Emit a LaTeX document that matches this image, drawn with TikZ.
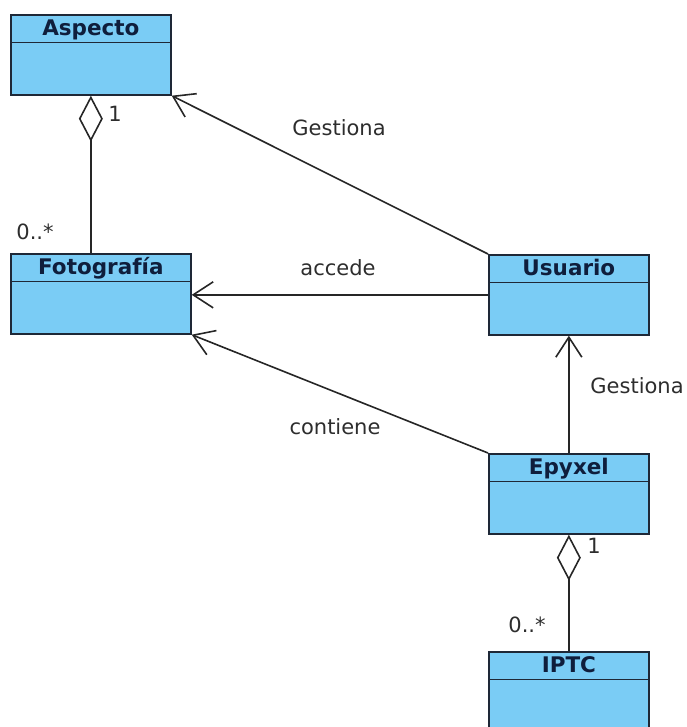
\documentclass[tikz,border=0pt]{standalone}
\usepackage{fontspec}
\setmainfont{DejaVu Sans}
\usepackage{xcolor}
\usetikzlibrary{positioning,arrows.meta,calc}
\definecolor{classfill}{RGB}{122,204,245}
\definecolor{classborder}{RGB}{30,40,55}
\definecolor{titletext}{RGB}{15,30,60}
\definecolor{labeltext}{RGB}{45,45,45}

\begin{document}
\begin{tikzpicture}[
        x=1pt, y=-1pt,
        font=\fontsize{21}{25}\selectfont,
        classbox/.style={
                rectangle, draw=classborder, line width=1.7pt,
                fill=classfill,
                minimum width=160pt, minimum height=80pt,
                anchor=north west, inner sep=0pt
            },
        classtitle/.style={
                rectangle, inner sep=0pt,
                minimum width=160pt, minimum height=28pt,
                text height=17.5pt, text depth=2.5pt,
                anchor=north, text=titletext, font=\fontsize{21.5}{25}\selectfont\bfseries
            },
        divider/.style={draw=classborder, line width=1.7pt},
        assoc/.style={-{Straight Barb[length=20pt, width=26pt, line width=1.6pt]}, line width=1.6pt, draw=black!85},
        aggr/.style={{Diamond[open, length=46pt, width=24pt, line width=1.6pt]}-, line width=1.6pt, draw=black!85},
        lbl/.style={text=labeltext, inner sep=0pt}
    ]

    \useasboundingbox (0,0) rectangle (686,727);

    % ===== Classes =====
    \node[classbox] (aspecto) at (10,14) {};
    \node[classtitle] (aspectoT) at (aspecto.north) {Aspecto};
    \draw[divider] (aspectoT.south west) -- (aspectoT.south east);

    \node[classbox, minimum width=180pt] (foto) at (10,253) {};
    \node[classtitle, minimum width=180pt] (fotoT) at (foto.north) {Fotografía};
    \draw[divider] (fotoT.south west) -- (fotoT.south east);

    \node[classbox] (usuario) at (488,254) {};
    \node[classtitle] (usuarioT) at (usuario.north) {Usuario};
    \draw[divider] (usuarioT.south west) -- (usuarioT.south east);

    \node[classbox] (epyxel) at (488,453) {};
    \node[classtitle] (epyxelT) at (epyxel.north) {Epyxel};
    \draw[divider] (epyxelT.south west) -- (epyxelT.south east);

    \node[classbox] (iptc) at (488,651) {};
    \node[classtitle] (iptcT) at (iptc.north) {IPTC};
    \draw[divider] (iptcT.south west) -- (iptcT.south east);

    % ===== Aggregations =====
    \draw[aggr] (aspecto.south) -- (aspecto.south |- foto.north);
    \node[lbl] (aspOne) at (115,114) {1};
    \node[lbl] (aspMany) at (35,232) {0..*};

    \draw[aggr] (epyxel.south) -- (iptc.north);
    \node[lbl] (epyOne) at (594,546) {1};
    \node[lbl] (epyMany) at (527,625) {0..*};

    % ===== Associations =====
    \draw[assoc] (usuario.north west) -- (aspecto.south east);
    \node[lbl] (gestiona1) at (339,128) {Gestiona};

    \draw[assoc] (usuario.west) -- (usuario.west -| foto.east);
    \node[lbl] (accede) at (338,268) {accede};

    \draw[assoc] (epyxel.north west) -- (foto.south east);
    \node[lbl] (contiene) at (335,427) {contiene};

    \draw[assoc] (epyxel.north) -- (usuario.south);
    \node[lbl] (gestiona2) at (637,386) {Gestiona};

\end{tikzpicture}
\end{document}
